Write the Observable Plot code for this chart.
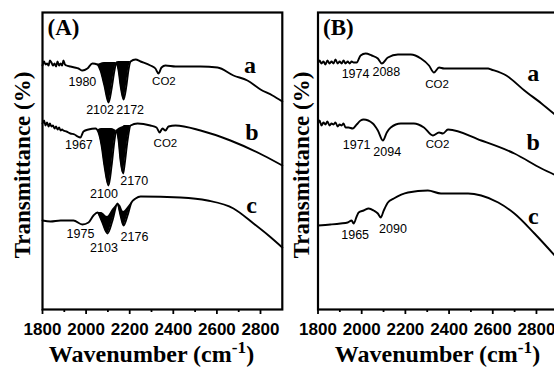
<!DOCTYPE html>
<html><head><meta charset="utf-8">
<script src="https://cdn.jsdelivr.net/npm/d3@7"></script>
<script src="https://cdn.jsdelivr.net/npm/@observablehq/plot@0.6"></script>
<style>
body{margin:0;background:#fff;}
#fig{position:relative;width:554px;height:368px;overflow:hidden;background:#fff;}
#fig svg{position:absolute;top:0;}
.xl{position:absolute;font-family:"Liberation Serif","Times New Roman",serif;font-weight:bold;font-size:24px;line-height:24px;white-space:nowrap;transform:translateX(-50%);color:#000;}
.xl .sup{font-size:0.72em;position:relative;top:-0.55em;}
.yl{position:absolute;font-family:"Liberation Serif","Times New Roman",serif;font-weight:bold;font-size:23px;line-height:23px;white-space:nowrap;transform:translate(-50%,-50%) rotate(-90deg);color:#000;}
</style>
</head><body>
<div id="fig"></div>
<script>
// ---------- data (wavenumber in cm-1, transmittance in arbitrary units) ----------
const majorTicks = [1800, 2000, 2200, 2400, 2600, 2800];
const minorTicks = [1900, 2100, 2300, 2500, 2700];
const xLabel = "Wavenumber (cm";
const xLabelSup = "-1";
const yLabel = "Transmittance (%)";

// Panel A
const Aa_wn = [1800,1807,1814,1821,1828,1834,1841,1848,1855,1862,1869,1876,1883,1890,1896,1903,1910,1928,1947,1965,1983,2006,2029,2052,2066,2084,2103,2117,2130,2139,2149,2158,2172,2185,2194,2204,2227,2250,2295,2318,2332,2346,2364,2410,2525,2603,2676,2740,2800,2855,2900];
const Aa_t  = [244,248,245,246,244,249,247,244,246,243,248,244,246,244,249,245,244,243,242,241,239,241,246,245,239,224,207,221,239,247,239,224,210,224,239,248,250,248,244,241,236,242,244,243,243,242,234,229,220,214,208];
const Ab_wn = [1800,1807,1814,1821,1828,1834,1841,1848,1855,1862,1869,1876,1883,1890,1896,1910,1928,1947,1961,1974,1988,2011,2043,2057,2071,2084,2103,2117,2130,2139,2149,2158,2170,2176,2190,2204,2236,2295,2323,2337,2350,2364,2378,2410,2525,2662,2814,2900];
const Ab_t  = [186,189,184,187,183,186,183,184,181,183,180,182,179,180,179,178,176,175,173,172,178,180,181,177,164,144,124,144,169,179,169,149,136,144,169,184,186,184,182,177,181,179,183,184,179,169,154,144];
const Ac_wn = [1800,1837,1883,1942,1983,2011,2034,2052,2071,2098,2121,2144,2158,2172,2190,2208,2227,2250,2433,2557,2676,2768,2837,2900];
const Ac_t  = [89,88,89,89,85,87,94,97,89,76,89,106,94,84,94,107,111,113,112,109,101,86,74,62];

// dense (filled) absorption bands, panel A
const Aa_fill1 = {wn:[2052,2066,2084,2103,2117,2130,2139], lo:[245,239,224,207,221,239,247], hi:[245,246,247,247,247,247,247]};
const Aa_fill2 = {wn:[2139,2149,2158,2172,2185,2194,2204], lo:[247,239,224,210,224,239,248], hi:[247,248,248,248,248,248,248]};
const Ab_fill1 = {wn:[2057,2071,2084,2103,2117,2130,2139], lo:[177,164,144,124,144,169,179], hi:[180,181,181,181,181,180,179]};
const Ab_fill2 = {wn:[2139,2149,2158,2170,2176,2190,2204], lo:[179,169,149,136,144,169,184], hi:[179,181,182,183,184,184,184]};
const Ac_fill1 = {wn:[2052,2071,2098,2121,2144], lo:[97,89,76,89,106], hi:[97,97,93,100,106]};
const Ac_fill2 = {wn:[2144,2158,2172,2190,2208], lo:[106,94,84,94,107], hi:[106,104,98,102,107]};

// Panel B
const Ba_wn = [1800,1807,1816,1825,1834,1843,1853,1862,1871,1880,1890,1899,1908,1917,1926,1936,1945,1954,1963,1977,1995,2018,2046,2074,2092,2120,2166,2225,2271,2308,2331,2354,2377,2409,2579,2593,2662,2745,2823,2900];
const Ba_t  = [246,249,246,248,245,249,246,248,246,250,246,248,246,249,246,248,246,248,247,247,254,256,254,251,246,252,255,255,251,244,237,242,241,241,241,240,234,219,206,192];
const Bb_wn = [1800,1807,1816,1825,1834,1843,1853,1862,1871,1880,1890,1899,1908,1917,1926,1940,1959,1977,1995,2009,2051,2074,2097,2115,2133,2179,2239,2285,2326,2354,2372,2395,2547,2699,2823,2900];
const Bb_t  = [186,189,184,187,185,188,184,186,185,187,183,185,184,186,182,182,181,185,189,190,186,179,169,177,182,186,186,182,174,177,176,180,169,156,141,133];
const Bc_wn = [1800,1857,1903,1936,1954,1963,1977,1986,2009,2032,2055,2074,2087,2101,2120,2147,2212,2303,2363,2487,2547,2625,2699,2791,2900];
const Bc_t  = [84,85,86,87,89,86,93,97,99,101,99,96,92,99,107,111,117,119,116,116,114,107,96,76,50];

// peak annotations
const annA_text = ["1980","2102","2172","CO2","1967","2100","2170","CO2","1975","2103","2176"];
const annA_wn   = [1983,2064,2202,2357,1967,2082,2221,2364,1974,2082,2222];
const annA_t    = [228,200,200,228,165,116,129,166,76,62,73];
const annB_text = ["1974","2088","CO2","1971","2094","CO2","1965","2090"];
const annB_wn   = [1972,2113,2345,1977,2117,2347,1970,2143];
const annB_t    = [236,238,225,165,158,165,75,81];

// series letters
const seriesNames = ["a","b","c"];
const letA_wn = [2752,2761,2759];
const letA_t  = [244,177,104];
const letB_wn = [2785,2785,2786];
const letB_t  = [236,167,93];

const panelNames = ["(A)","(B)"];

// ---------- build ----------
const zip = (wn, t, s) => wn.map((x, i) => ({x, t: t[i], s}));
const fillRows = (f, id) => f.wn.map((x, i) => ({x, lo: f.lo[i], hi: f.hi[i], id}));
const ann = (txt, wn, t) => txt.map((text, i) => ({text, x: wn[i], t: t[i]}));
const lets = (wn, t) => seriesNames.map((text, i) => ({text, x: wn[i], t: t[i]}));

const serif = "'Liberation Serif','Times New Roman',serif";
const sans = "'Liberation Sans',Arial,sans-serif";

function panel(lines, fills, anns, letters, name, marginLeft) {
  const width = 284;
  return Plot.plot({
    width, height: 368,
    marginLeft, marginRight: 2.2, marginTop: 12, marginBottom: 59,
    x: {domain: [1800, 2900]},
    y: {domain: [0, 297], axis: null},
    style: {fontFamily: sans, color: "black", background: "transparent", overflow: "visible"},
    marks: [
      Plot.areaY(fills, {x: "x", y1: "lo", y2: "hi", z: "id", fill: "black", curve: "monotone-x"}),
      Plot.line(lines, {x: "x", y: "t", z: "s", stroke: "black", strokeWidth: 1.9, strokeLinejoin: "round", curve: "monotone-x"}),
      Plot.axisX({ticks: majorTicks, tickSize: 5, tickPadding: 8, fontSize: 17, fontWeight: "bold", fontFamily: sans, label: null, strokeWidth: 1.8, tickFormat: d => String(d)}),
      Plot.axisX({ticks: minorTicks, tickSize: 3, label: null, strokeWidth: 1.8, tickFormat: () => ""}),
      Plot.text(anns, {x: "x", y: "t", text: "text", fontSize: d => d.text === "CO2" ? 11.5 : 12.5, fontWeight: d => d.text === "CO2" ? "normal" : "bold", fontFamily: sans, fill: "black", textAnchor: "middle", lineAnchor: "middle"}),
      Plot.text(letters, {x: "x", y: "t", text: "text", fontSize: 24, fontWeight: "bold", fontFamily: serif, fill: "black", textAnchor: "middle", lineAnchor: "middle"}),
      Plot.text([name], {frameAnchor: "top-left", textAnchor: "start", lineAnchor: "top", dx: 5, dy: 6, fontSize: 23, fontWeight: "bold", fontFamily: serif, fill: "black"}),
      Plot.frame({stroke: "black", strokeWidth: 2.2})
    ]
  });
}

const linesA = [...zip(Aa_wn, Aa_t, "a"), ...zip(Ab_wn, Ab_t, "b"), ...zip(Ac_wn, Ac_t, "c")];
const fillsA = [...fillRows(Aa_fill1, "a1"), ...fillRows(Aa_fill2, "a2"), ...fillRows(Ab_fill1, "b1"), ...fillRows(Ab_fill2, "b2"), ...fillRows(Ac_fill1, "c1"), ...fillRows(Ac_fill2, "c2")];
const linesB = [...zip(Ba_wn, Ba_t, "a"), ...zip(Bb_wn, Bb_t, "b"), ...zip(Bc_wn, Bc_t, "c")];

const fig = document.getElementById("fig");
const pA = panel(linesA, fillsA, ann(annA_text, annA_wn, annA_t), lets(letA_wn, letA_t), panelNames[0], 42);
pA.style.left = "0px";
const pB = panel(linesB, [], ann(annB_text, annB_wn, annB_t), lets(letB_wn, letB_t), panelNames[1], 41.5);
pB.style.left = "276px";
fig.appendChild(pA);
fig.appendChild(pB);

function addX(cx) {
  const d = document.createElement("div");
  d.className = "xl";
  d.style.left = cx + "px";
  d.style.top = "342px";
  d.append(xLabel);
  const s = document.createElement("span");
  s.className = "sup";
  s.textContent = xLabelSup;
  d.append(s, ")");
  fig.appendChild(d);
}
function addY(cx, cy) {
  const d = document.createElement("div");
  d.className = "yl";
  d.style.left = cx + "px";
  d.style.top = cy + "px";
  d.textContent = yLabel;
  fig.appendChild(d);
}
addX(151.5); addX(437.5);
addY(22, 165); addY(301, 165);
</script>
</body></html>
